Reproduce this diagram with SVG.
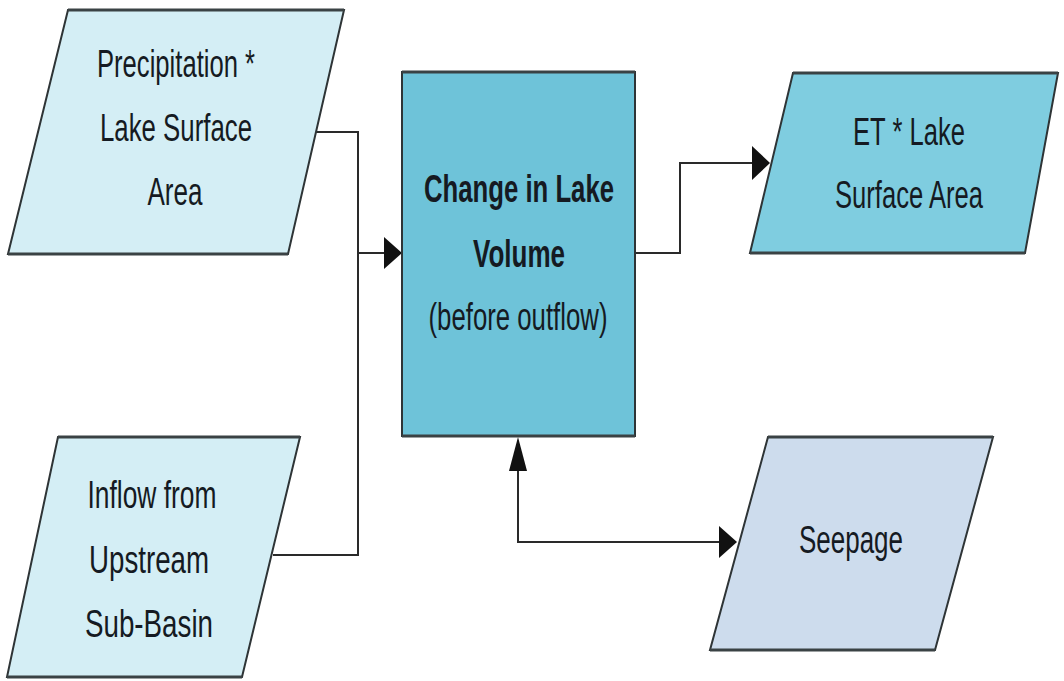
<svg xmlns="http://www.w3.org/2000/svg" width="1064" height="681" viewBox="0 0 1064 681">
  <style>
    .shape { stroke: #2e3436; stroke-width: 2; stroke-linejoin: miter; }
    .edge { stroke: #3a4244; stroke-width: 3.2; fill: none; }
    .light { fill: #d4eef5; }
    .core { fill: #6ec3d9; }
    .mid { fill: #7fcde0; }
    .grey { fill: #cddced; }
    .lbl { font-family: "Liberation Sans", Arial, sans-serif; font-size: 38px; fill: #151a22; text-anchor: middle; }
    .bold { font-weight: bold; }
    .wire { fill: none; stroke: #2a2a2a; stroke-width: 2; }
    .head { fill: #111; }
  </style>
  <rect width="1064" height="681" fill="#ffffff"/>

  <g id="connectors">
    <!-- precipitation and inflow merge into the lake box -->
    <polyline class="wire" points="315,132 358,132 358,555 273,555"/>
    <line class="wire" x1="358" y1="253" x2="386" y2="253"/>
    <polygon class="head" points="402,253 384,237 384,269"/>
    <!-- lake box out to evaporation -->
    <polyline class="wire" points="635,253 680,253 680,163 754,163"/>
    <polygon class="head" points="770,163 752,146 752,180"/>
    <!-- two-way link between lake box and seepage -->
    <polyline class="wire" points="518,470 518,542 721,542"/>
    <polygon class="head" points="518,437 509,471 527,471"/>
    <polygon class="head" points="737,542 719,526 719,558"/>
  </g>

  <g id="precipitation">
    <polygon class="shape light" points="68,10 344,10 288,254 8,254"/>
    <path class="edge" d="M68,10 H344 M8,254 H288"/>
    <text class="lbl" x="176" y="77" textLength="158" lengthAdjust="spacingAndGlyphs">Precipitation *</text>
    <text class="lbl" x="176" y="141" textLength="152" lengthAdjust="spacingAndGlyphs">Lake Surface</text>
    <text class="lbl" x="175" y="205" textLength="55" lengthAdjust="spacingAndGlyphs">Area</text>
  </g>

  <g id="inflow">
    <polygon class="shape light" points="58,437 300,437 242,677 7,677"/>
    <path class="edge" d="M58,437 H300 M7,677 H242"/>
    <text class="lbl" x="152" y="508" textLength="129" lengthAdjust="spacingAndGlyphs">Inflow from</text>
    <text class="lbl" x="149" y="573" textLength="120" lengthAdjust="spacingAndGlyphs">Upstream</text>
    <text class="lbl" x="149" y="637" textLength="128" lengthAdjust="spacingAndGlyphs">Sub-Basin</text>
  </g>

  <g id="lake-volume">
    <rect class="shape core" x="402" y="72" width="233" height="364"/>
    <path class="edge" d="M402,72 H635 M402,436 H635"/>
    <text class="lbl bold" x="519" y="202" textLength="190" lengthAdjust="spacingAndGlyphs">Change in Lake</text>
    <text class="lbl bold" x="519" y="267" textLength="92" lengthAdjust="spacingAndGlyphs">Volume</text>
    <text class="lbl" x="518" y="330" textLength="179" lengthAdjust="spacingAndGlyphs">(before outflow)</text>
  </g>

  <g id="evaporation">
    <polygon class="shape mid" points="793,73 1058,73 1025,253 750,253"/>
    <path class="edge" d="M793,73 H1058 M750,253 H1025"/>
    <text class="lbl" x="909" y="145" textLength="112" lengthAdjust="spacingAndGlyphs">ET * Lake</text>
    <text class="lbl" x="909" y="208" textLength="148" lengthAdjust="spacingAndGlyphs">Surface Area</text>
  </g>

  <g id="seepage">
    <polygon class="shape grey" points="768,437 993,437 935,650 710,650"/>
    <path class="edge" d="M768,437 H993 M710,650 H935"/>
    <text class="lbl" x="851" y="553" textLength="104" lengthAdjust="spacingAndGlyphs">Seepage</text>
  </g>
</svg>
